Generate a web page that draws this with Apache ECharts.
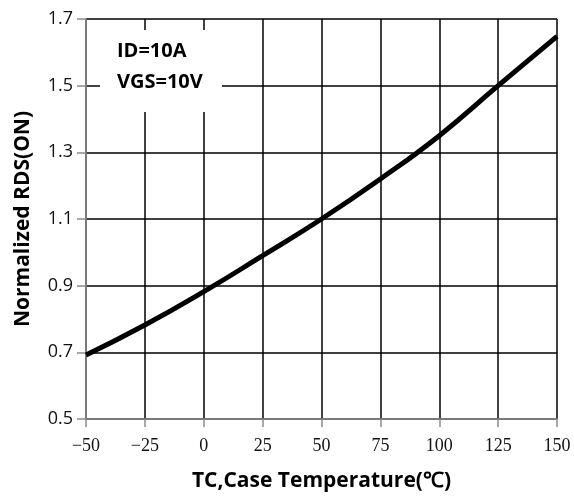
<!DOCTYPE html>
<html><head><meta charset="utf-8">
<script src="https://cdn.jsdelivr.net/npm/echarts@6/dist/echarts.min.js"></script>
<style>html,body{margin:0;padding:0;background:#fff}#c{width:574px;height:498px}</style>
</head><body><div id="c"></div>
<script>
const temps = [-50, -25, 0, 25, 50, 75, 100, 125, 150];
const rdsNorm = [0.692, 0.782, 0.882, 0.99, 1.10, 1.22, 1.35, 1.50, 1.648];
const xTicks = [-50, -25, 0, 25, 50, 75, 100, 125, 150];
const yTicks = [0.5, 0.7, 0.9, 1.1, 1.3, 1.5, 1.7];
const noteLines = ['ID=10A', 'VGS=10V'];

const chart = echarts.init(document.getElementById('c'));
chart.setOption({
  animation: false,
  backgroundColor: '#fff',
  grid: {left: 86, right: 17, top: 19, bottom: 79, containLabel: false, outerBoundsMode: 'none'},
  xAxis: {
    type: 'value', min: xTicks[0], max: xTicks[xTicks.length-1], interval: 25,
    name: 'TC,Case Temperature(℃)', nameLocation: 'middle', nameGap: 52,
    nameTextStyle: {fontFamily: 'Open Sans', fontWeight: 'bold', fontSize: 21, color: '#000'},
    axisLine: {onZero: false, lineStyle: {color: '#8c8c8c', width: 1.5}},
    axisTick: {show: true, length: 8, lineStyle: {color: '#8c8c8c', width: 1.5}},
    axisLabel: {fontFamily: 'Liberation Serif', fontSize: 18, color: '#111', margin: 18,
      formatter: v => (v < 0 ? '\u2212' + Math.abs(v) : String(v))},
    splitLine: {show: true, lineStyle: {color: '#000', width: 1.5}}
  },
  yAxis: {
    type: 'value', min: yTicks[0], max: yTicks[yTicks.length-1], interval: 0.2,
    name: 'Normalized RDS(ON)', nameLocation: 'middle', nameGap: 52,
    nameTextStyle: {fontFamily: 'Open Sans', fontWeight: 'bold', fontSize: 21, color: '#000'},
    axisLine: {show: true, onZero: false, lineStyle: {color: '#8c8c8c', width: 1.5}},
    axisTick: {show: true, length: 9, lineStyle: {color: '#8c8c8c', width: 1.5}},
    axisLabel: {fontFamily: 'Open Sans', fontSize: 18, color: '#111', margin: 13,
      formatter: v => v.toFixed(1)},
    splitLine: {show: true, lineStyle: {color: '#000', width: 1.5}}
  },
  series: [{
    type: 'line', smooth: true, symbol: 'none',
    data: temps.map((t, i) => [t, rdsNorm[i]]),
    lineStyle: {color: '#000', width: 5}
  }],
  graphic: [
    {type: 'rect', left: 100, top: 30, shape: {width: 122, height: 82}, style: {fill: '#fff'}, z: 100},
    {type: 'text', left: 117, top: 41, z: 101,
      style: {text: noteLines[0], font: 'bold 20px "Open Sans"', fill: '#000'}},
    {type: 'text', left: 117, top: 72, z: 101,
      style: {text: noteLines[1], font: 'bold 20px "Open Sans"', fill: '#000'}}
  ]
});
</script></body></html>
